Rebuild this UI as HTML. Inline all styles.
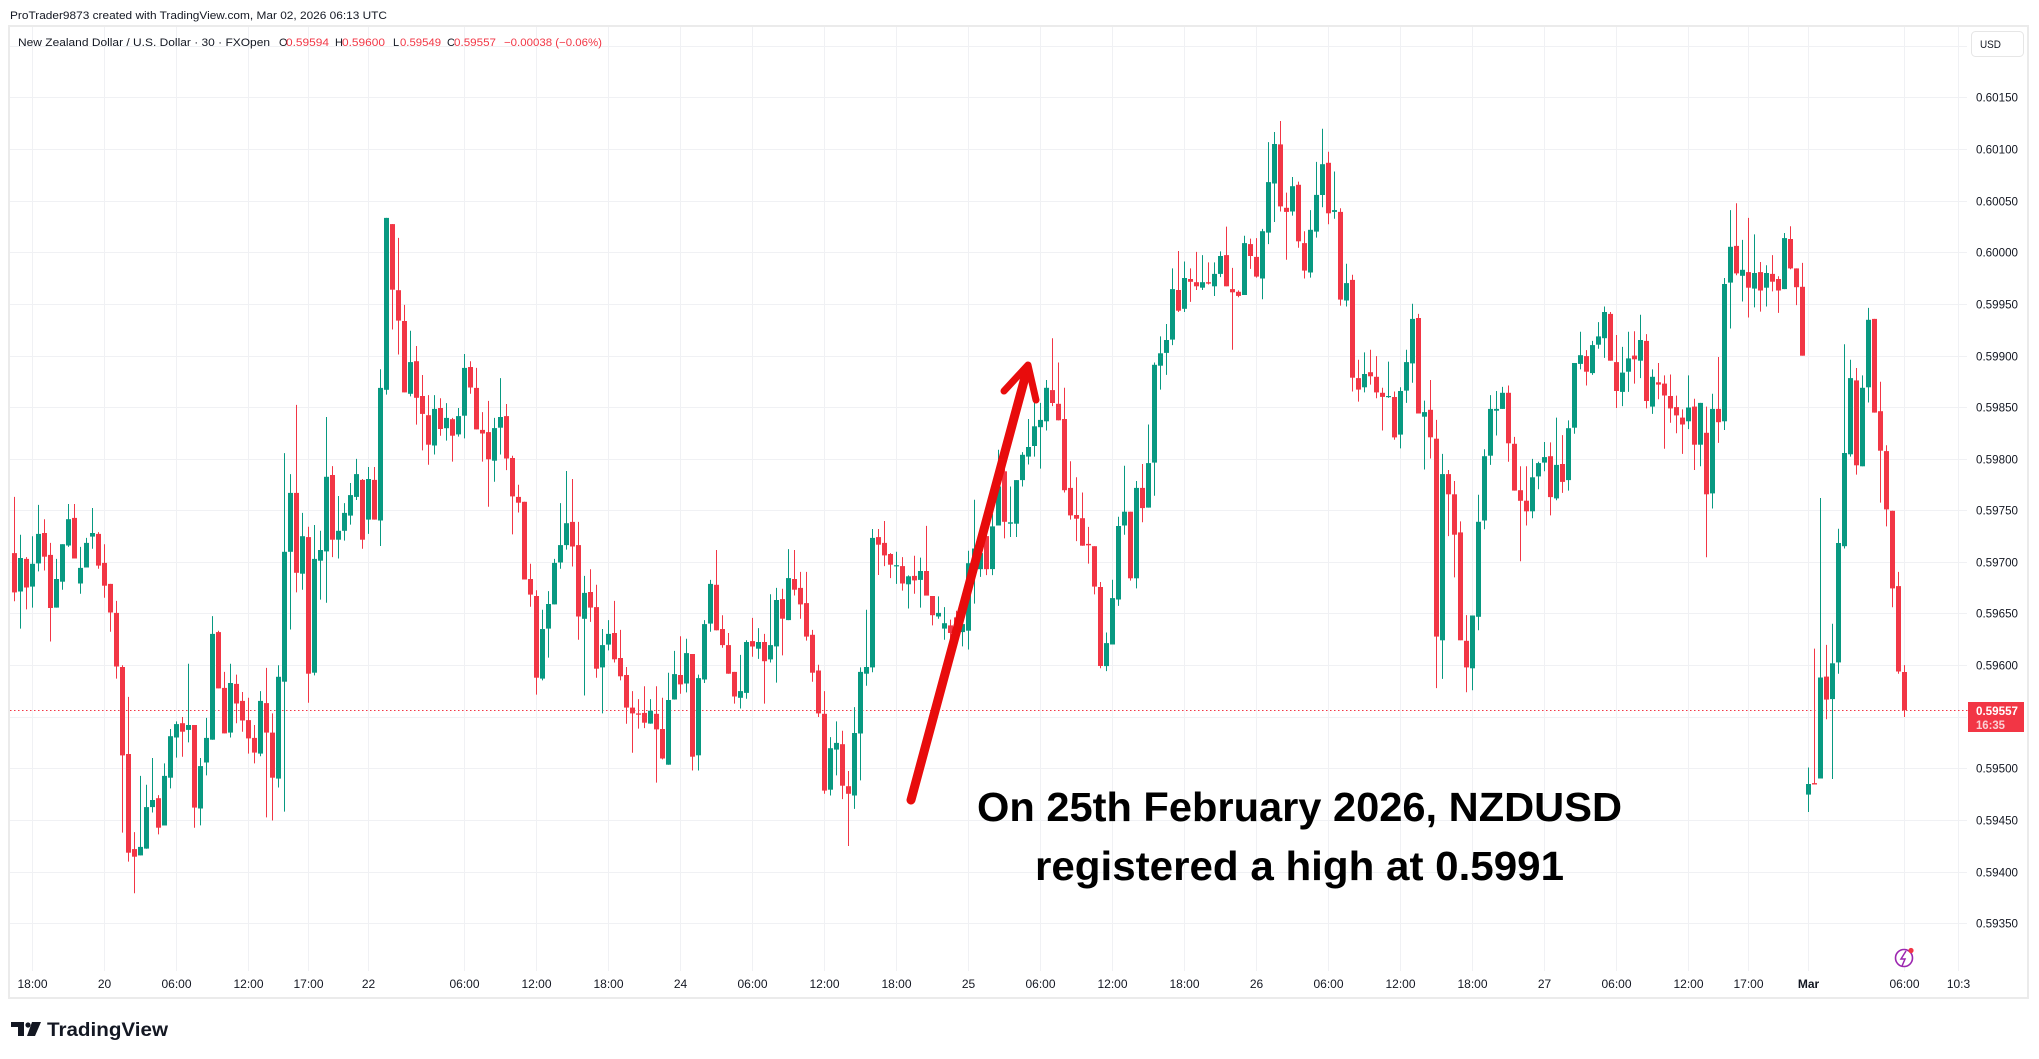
<!DOCTYPE html>
<html>
<head>
<meta charset="utf-8">
<style>
html,body{margin:0;padding:0;background:#fff;}
svg{display:block;}
</style>
</head>
<body>
<svg id="s" width="2039" height="1059" xmlns="http://www.w3.org/2000/svg" font-family="'Liberation Sans', sans-serif">
<rect x="0" y="0" width="2039" height="1059" fill="#ffffff"/>
<g id="grid"></g>
<!-- frame -->
<rect x="9" y="26" width="2019" height="972" fill="none" stroke="#ebebeb" stroke-width="2"/>
<!-- header -->
<text x="10" y="19" font-size="11" fill="#131722" textLength="377" lengthAdjust="spacingAndGlyphs">ProTrader9873 created with TradingView.com, Mar 02, 2026 06:13 UTC</text>
<!-- legend -->
<g font-size="11" fill="#131722">
<text x="18" y="46" textLength="252" lengthAdjust="spacingAndGlyphs">New Zealand Dollar / U.S. Dollar · 30 · FXOpen</text>
<text x="279" y="46">O</text>
<text x="286" y="46" fill="#f23645" textLength="43" lengthAdjust="spacingAndGlyphs">0.59594</text>
<text x="335" y="46">H</text>
<text x="342" y="46" fill="#f23645" textLength="43" lengthAdjust="spacingAndGlyphs">0.59600</text>
<text x="393" y="46">L</text>
<text x="400" y="46" fill="#f23645" textLength="41" lengthAdjust="spacingAndGlyphs">0.59549</text>
<text x="447" y="46">C</text>
<text x="454" y="46" fill="#f23645" textLength="42" lengthAdjust="spacingAndGlyphs">0.59557</text>
<text x="504" y="46" fill="#f23645" textLength="98" lengthAdjust="spacingAndGlyphs">−0.00038 (−0.06%)</text>
</g>
<!-- USD box -->
<rect x="1971.5" y="31.5" width="52" height="25" rx="4" fill="#fff" stroke="#e6e6e6" stroke-width="1"/>
<text x="1980" y="48" font-size="11" fill="#131722" textLength="21" lengthAdjust="spacingAndGlyphs">USD</text>
<g id="plabels" font-size="12" fill="#131722"></g>
<g id="tlabels" font-size="12" fill="#131722" text-anchor="middle"></g>
<!-- current price line -->
<line x1="10" x2="1968" y1="710.5" y2="710.5" stroke="#f23645" stroke-width="1" stroke-dasharray="1.5,2.5"/>
<g id="candles"></g>
<!-- current price label -->
<rect x="1968" y="702" width="56" height="30" fill="#f23645"/>
<text x="1976" y="715" font-size="12" font-weight="bold" fill="#ffffff" textLength="42" lengthAdjust="spacingAndGlyphs">0.59557</text>
<text x="1976" y="729" font-size="12" font-weight="bold" fill="#fbd0d4" textLength="29" lengthAdjust="spacingAndGlyphs">16:35</text>
<!-- lightning icon -->
<circle cx="1904" cy="958" r="8.5" fill="#fff" stroke="#9c27b0" stroke-width="1.6"/>
<path d="M1906 951 L1901 959 L1905 959 L1902 966" fill="none" stroke="#9c27b0" stroke-width="1.5"/>
<circle cx="1911" cy="950.5" r="2.6" fill="#f23645"/>
<!-- arrow -->
<g stroke="#e80c0c" stroke-linecap="round" stroke-linejoin="round" fill="none">
<line x1="911" y1="800" x2="1027" y2="370" stroke-width="9"/>
<polyline points="1004,391 1028,365 1036,400" stroke-width="7"/>
</g>
<!-- annotation -->
<g font-weight="bold" fill="#000" font-size="41" text-anchor="start">
<text x="977" y="821" textLength="645" lengthAdjust="spacingAndGlyphs">On 25th February 2026, NZDUSD</text>
<text x="1035" y="880" textLength="529" lengthAdjust="spacingAndGlyphs">registered a high at 0.5991</text>
</g>
<!-- TradingView logo -->
<g fill="#131722">
<path d="M11 1022 H24 V1036 H18 V1027 H11 Z"/>
<circle cx="28" cy="1025" r="2.6"/>
<path d="M32 1022 H41 L35 1036 H27 Z"/>
</g>
<text x="47" y="1036" font-size="19" font-weight="bold" fill="#131722" textLength="121" lengthAdjust="spacingAndGlyphs">TradingView</text>
</svg>
<script>
(function(){
var NS="http://www.w3.org/2000/svg";
function yP(p){return 252.3+(0.6-p)*103200;}
// grid
var g="";
var tx=[32,104,176,248,308,368,464,536,608,680,752,824,896,968,1040,1112,1184,1256,1328,1400,1472,1544,1616,1688,1748,1808,1904,1958];
var tl=["18:00","20","06:00","12:00","17:00","22","06:00","12:00","18:00","24","06:00","12:00","18:00","25","06:00","12:00","18:00","26","06:00","12:00","18:00","27","06:00","12:00","17:00","Mar","06:00","10:3"];
for(var i=0;i<tx.length;i++){
  var x=tx[i]+0.5;
  g+='<line x1="'+x+'" x2="'+x+'" y1="27" y2="971" stroke="#f0f1f4" stroke-width="1"/>';
}
var pl="";
for(var k=0;k<=17;k++){
  var p=0.602-0.0005*k;
  var y=Math.round(yP(p))+0.5;
  g+='<line x1="10" x2="1967" y1="'+y+'" y2="'+y+'" stroke="#f0f1f4" stroke-width="1"/>';
  if(k>=1 && Math.abs(p-0.5955)>1e-6){
    pl+='<text x="1976" y="'+(y+4)+'" textLength="42" lengthAdjust="spacingAndGlyphs">'+p.toFixed(5)+'</text>';
  }
}
document.getElementById("grid").innerHTML=g;
document.getElementById("plabels").innerHTML=pl;
var t="";
for(var i=0;i<tx.length;i++){
  var fw=(tl[i]=="Mar")?' font-weight="bold"':'';
  t+='<text x="'+(tx[i]+0.5)+'" y="988"'+fw+'>'+tl[i]+'</text>';
}
document.getElementById("tlabels").innerHTML=t;

var A="r 791 879 665 899,g 802 877 750 960,r 804 868 800 917,g 815 866 753 913,g 748 814 683 832,r 746 799 715 830,r 795 914 768 989,g 849 913 804 913,g 771 855 771 873,g 715 774 681 777,r 712 803 681 803,g 824 859 777 882,g 768 823 757 823,g 746 754 690 781,r 748 819 744 826,r 813 864 771 891,r 860 924 860 967,r 925 1045 898 1072,r 1046 1244 1042 1417,r 1241 1462 1113 1482,r 1454 1471 1416 1553,g 1449 1468 1290 1468,g 1360 1453 1310 1453,g 1344 1360 1250 1372,r 1340 1406 1333 1421,g 1290 1401 1262 1401,g 1201 1294 1185 1318,g 1174 1204 1168 1249,r 1172 1191 1158 1247,g 1176 1187 1039 1215,r 1176 1361 1176 1406,g 1268 1363 1250 1401,g 1205 1260 1160 1289,g 972 1209 932 1209,r 968 1094 965 1094,r 1093 1195 1057 1195,g 1082 1193 1039 1204,r 1084 1128 1063 1172,r 1122 1166 1102 1191,r 1165 1206 1115 1240,r 1205 1238 1176 1262,g 1122 1240 1100 1246,r 1127 1193 1048 1383,r 1193 1294 1150 1390,g 1068 1296 1042 1316,g 788 1079 567 1370,g 656 788 614 962,r 656 835 459 879,g 753 837 701 873,r 755 1061 732 1126,g 804 1059 728 1065,g 784 808 741 895,g 620 787 486 902,r 616 761 596 800,g 741 761 663 803,g 701 741 679 763,g 661 707 634 727,g 614 665 580 672,r 627 761 625 781,g 625 716 598 748,r 627 716 598 716,g 421 718 379 775,g 40 425 40 436,r 54 201 54 290,r 202 270 85 346,r 271 431 235 431,g 363 434 293 440,r 361 443 327 503,r 439 479 392 561,r 482 548 437 593,g 468 550 437 570,r 466 513 444 528,g 488 511 455 539,r 491 528 488 586,g 484 525 466 530,g 376 483 345 534,r 374 420 361 434,r 421 514 376 514,r 515 523 475 586,r 520 581 450 687,g 511 584 488 631,g 486 510 399 570,r 484 579 457 605,r 578 664 573 749,r 665 678 638 700,r 676 850 676 850,r 849 884 815 911,r 887 1070 874 1108,g 961 1072 918 1076,g 905 960 876 1025,g 813 906 804 906,g 773 812 679 826,g 724 773 607 783,r 721 776 625 821,r 773 933 721 985,g 880 938 842 1110,r 878 913 827 945,r 912 1050 862 1070,g 997 1047 961 1150,g 972 996 941 1009,r 970 1029 898 1036,r 1026 1067 963 1076,r 1064 1137 1046 1173,r 1137 1150 1100 1238,r 1150 1153 1118 1184,r 1149 1171 1089 1183,g 1144 1173 1118 1173,r 1151 1186 1089 1305,r 1185 1251 1115 1253,g 1120 1265 1059 1265,g 1062 1119 1010 1119,r 1064 1085 977 1106,g 1015 1083 983 1103,r 1017 1247 1017 1278,g 1071 1244 1063 1278,g 950 1074 941 1082,g 860 949 851 967,r 862 964 784 964,r 961 997 930 1003,r 997 1061 970 1061,r 1057 1112 1057 1128,g 1100 1115 1019 1139,g 990 1104 986 1117,r 988 1000 936 1023,g 990 1005 959 1028,r 990 1033 972 1128,g 997 1029 883 1036,g 896 1000 869 1081,r 894 938 871 1020,g 847 941 782 941,r 849 873 784 886,r 869 906 833 938,r 903 978 833 987,r 974 1059 963 1079,r 1054 1150 1041 1158,r 1151 1323 1100 1330,g 1228 1321 1203 1334,g 1216 1231 1168 1289,r 1219 1312 1189 1342,r 1313 1330 1279 1447,g 1194 1334 1136 1364,g 1057 1195 1047 1300,g 1046 1061 918 1088,g 757 1047 737 1058,r 755 772 737 840,r 768 796 719 820,r 793 817 791 847,g 818 820 788 860,r 820 859 800 875,g 843 861 841 915,r 842 852 797 882,g 831 851 801 913,r 831 886 730 886,r 887 930 887 953,g 925 933 888 938,g 948 960 912 985,r 953 970 940 990,r 935 960 920 975,g 950 968 930 1000";
var B="g 987 1134 960 1175,g 955 990 849 1075,g 965 1000 930 1017,r 928 1000 905 1013,g 907 1000 880 1013,g 820 905 740 905,r 787 897 780 933,g 898 901 820 930,g 806 901 806 930,g 751 806 745 820,g 734 755 673 772,g 689 732 636 755,g 675 691 638 781,g 605 678 588 698,r 610 638 497 645,r 640 676 550 676,r 673 828 605 833,r 823 883 765 892,r 882 890 800 939,r 889 949 833 949,r 945 948 908 988,r 950 1038 950 1055,r 1039 1211 1028 1216,g 1161 1211 1138 1222,g 1063 1164 1023 1164,g 906 1066 886 1080,g 875 905 775 925,r 875 1020 875 1025,g 823 1020 808 1042,r 823 867 771 898,g 769 866 685 866,g 555 768 550 840,g 530 557 493 609,g 501 529 466 577,g 390 500 345 512,r 392 437 307 440,g 366 433 330 440,r 368 374 345 418,r 375 384 309 392,g 375 387 316 392,r 375 378 332 380,g 357 384 332 405,g 318 357 308 364,r 316 384 254 384,r 390 397 344 522,r 396 405 393 408,g 290 403 274 403,r 292 318 280 346,r 320 363 279 365,g 264 367 259 412,g 157 267 70 292,g 74 160 48 244,r 75 210 24 221,r 213 222 180 326,g 166 221 146 230,r 163 286 156 300,r 290 350 264 367,g 261 354 218 365,g 185 265 113 278,g 118 185 41 212,r 115 225 91 249,g 218 222 134 237,r 222 413 214 426,g 377 415 335 428,r 370 583 359 613,r 584 609 544 635,g 575 604 528 615,r 571 580 522 598,r 581 615 536 628,r 616 625 605 698,g 623 625 548 627,r 625 713 613 718,g 612 707 604 737,g 549 611 522 638,g 455 552 422 594,r 453 661 444 661,g 658 668 633 783,r 653 713 588 759,r 716 1147 675 1259,g 793 1155 749 1239,r 793 837 784 928,r 837 925 808 1018,r 920 1155 896 1155,r 1156 1214 1100 1268,g 1101 1216 1101 1264,g 897 1104 838 1133,g 754 894 739 913,g 651 753 621 773,g 651 655 612 709,g 616 651 603 651,r 616 726 600 766,r 727 829 712 829,r 828 851 776 983,r 851 874 776 905,g 800 874 760 889,g 769 798 766 826,g 756 768 723 787,r 754 843 724 883,g 773 846 670 850,r 771 810 708 834,g 693 806 676 829,g 551 692 551 705,g 534 553 483 565,r 536 570 523 600,g 512 573 503 577,g 493 511 462 520,g 440 497 428 540,r 444 546 440 546,r 549 612 490 649,g 572 614 516 645,g 541 570 483 614,r 535 543 482 596,g 501 546 446 584,r 503 634 488 650,g 581 646 565 662,r 593 598 551 630,r 596 622 578 738,r 623 650 576 681,r 647 665 622 704,r 670 685 652 749,g 648 678 578 695,r 646 729 629 784,g 638 729 638 776,r 703 837 646 974,g 651 835 618 868,r 651 680 538 725,g 379 678 366 697,g 298 376 218 476,r 296 356 203 360,g 348 361 283 417,r 353 387 235 452,g 355 389 271 430,r 353 393 331 439,g 355 387 338 428,r 357 374 316 395,r 368 393 362 442,g 279 390 268 390,r 281 345 253 347,r 345 386 345 425,r 385 535 333 535,g 1468 1491 1432 1529,r 1466 1469 1173 1469,g 1236 1456 845 1456,r 1234 1284 1165 1327,g 1205 1283 1119 1457,g 943 1203 912 1228,g 747 950 510 955,g 584 750 544 755,r 589 774 562 794,g 605 776 578 776,g 457 604 431 637,r 455 659 455 659,r 656 742 592 855,r 743 870 730 907,r 873 1042 873 1083,r 1037 1223 1006 1228,r 1224 1307 1209 1322";
var out="";
function add(str,start,y0,s){
  var arr=str.split(",");
  for(var i=0;i<arr.length;i++){
    var c=arr[i].trim().split(/\s+/);
    var k=start+i;
    var cx=Math.round(14.3+6*(k-1))+0.5;
    var col=c[0]=="g"?"#089981":"#f23645";
    var bt=y0+(+c[1])/s, bb=y0+(+c[2])/s, wt=y0+(+c[3])/s, wb=y0+(+c[4])/s;
    if(bb-bt<1.2){bb=bt+1.2;}
    out+='<line x1="'+cx+'" x2="'+cx+'" y1="'+wt.toFixed(1)+'" y2="'+wb.toFixed(1)+'" stroke="'+col+'" stroke-width="1"/>';
    out+='<rect x="'+(cx-2.5)+'" y="'+bt.toFixed(1)+'" width="5" height="'+(bb-bt).toFixed(1)+'" fill="'+col+'"/>';
  }
}
add(A,1,200,2.24);
add(B,160,110,2.178);
document.getElementById("candles").innerHTML=out;
})();
</script>
</body>
</html>
